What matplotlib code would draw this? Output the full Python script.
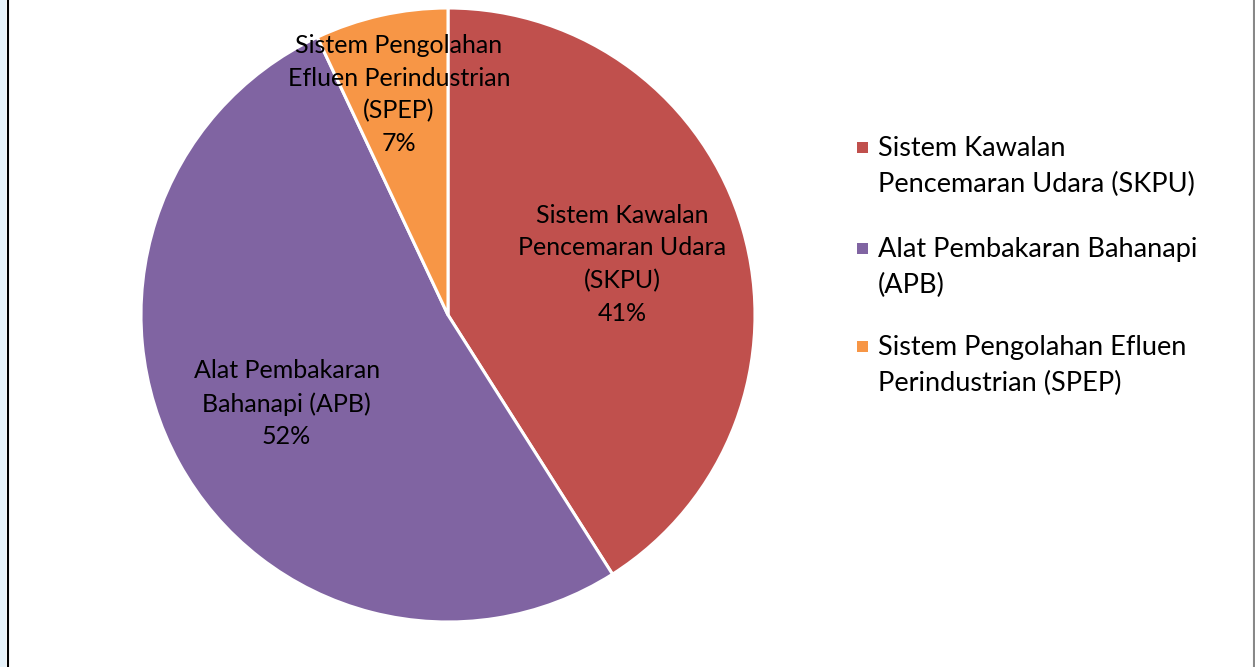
import matplotlib.pyplot as plt
import numpy as np
from matplotlib.patches import Rectangle
from matplotlib.lines import Line2D

# data
kategori = ["Sistem Kawalan Pencemaran Udara (SKPU)",
            "Alat Pembakaran Bahanapi (APB)",
            "Sistem Pengolahan Efluen Perindustrian (SPEP)"]
peratus = [41, 52, 7]
label_pie = ["Sistem Kawalan\nPencemaran Udara\n(SKPU)",
             "Alat Pembakaran\nBahanapi (APB)",
             "Sistem Pengolahan\nEfluen Perindustrian\n(SPEP)"]
label_legend = [["Sistem Kawalan", "Pencemaran Udara (SKPU)"],
                ["Alat Pembakaran Bahanapi", "(APB)"],
                ["Sistem Pengolahan Efluen", "Perindustrian (SPEP)"]]
warna = ["#C0504D", "#8064A2", "#F79646"]

plt.rcParams['font.family'] = ['Lato', 'DejaVu Sans']
fs_pie = 18
fs_leg = 19.5

W, H = 1255, 667
fig = plt.figure(figsize=(W / 100, H / 100), dpi=100)
cx, cy, r = 448, 315, 307
ax = fig.add_axes([(cx - r) / W, (H - cy - r) / H, 2 * r / W, 2 * r / H])

wedges, _ = ax.pie(peratus, colors=warna, startangle=90, counterclock=False,
                   wedgeprops=dict(edgecolor="white", linewidth=2.2))
ax.set_xlim(-1, 1)
ax.set_ylim(-1, 1)

jarak = [0.59, 0.60, 0.735]  # jarak label dari pusat
for w, lab, p, d in zip(wedges, label_pie, peratus, jarak):
    ang = np.deg2rad((w.theta1 + w.theta2) / 2)
    ax.text(d * np.cos(ang), d * np.sin(ang), lab + "\n%d%%" % p,
            ha="center", va="center", fontsize=fs_pie, linespacing=1.5,
            color="black")

# legend manual
lx, sq = 878, 11
baris1 = [156, 257, 355]
for i in range(3):
    yb = baris1[i]
    fig.add_artist(Rectangle(((lx - 21) / W, (H - yb + 3) / H), sq / W, sq / H,
                             transform=fig.transFigure, color=warna[i], lw=0))
    for j, t in enumerate(label_legend[i]):
        fig.text(lx / W, (H - yb - 36 * j) / H, t, ha="left", va="baseline",
                 fontsize=fs_leg, color="black")

# bingkai
fig.add_artist(Rectangle((0, 0), 6 / W, 1, transform=fig.transFigure,
                         color="#E6F2FA", lw=0))
fig.add_artist(Line2D([7.5 / W, 7.5 / W], [0, 1], transform=fig.transFigure,
                      color="black", lw=1.5))
fig.add_artist(Line2D([1254 / W, 1254 / W], [0, 1], transform=fig.transFigure,
                      color="#888888", lw=1.5))

fig.savefig("out.png", dpi=100)
